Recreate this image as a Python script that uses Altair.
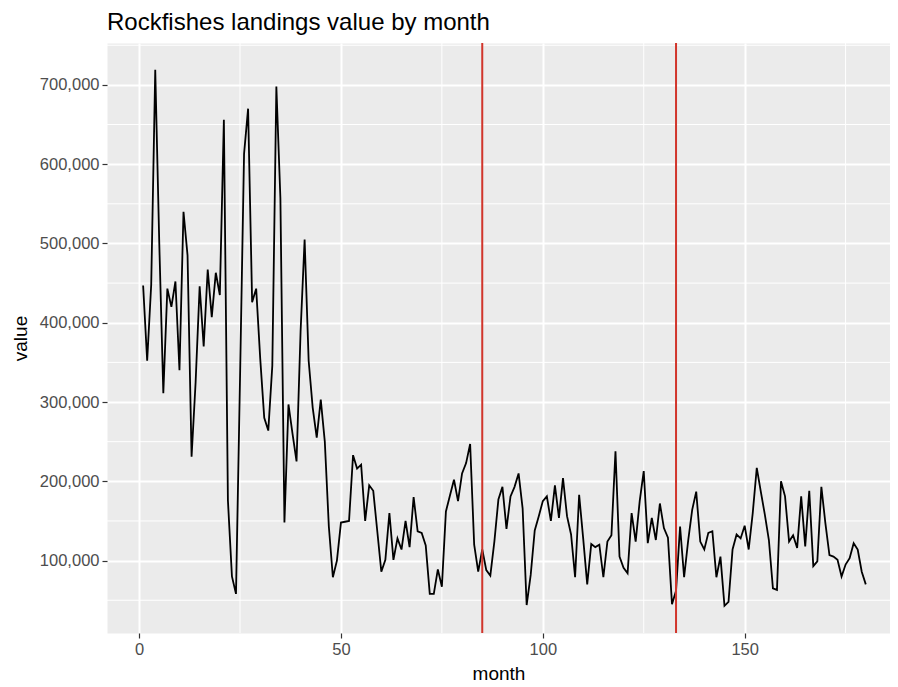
import pandas as pd
import altair as alt

# monthly rockfish landings value
months = list(range(1, 181))
values = [
    447000, 352000, 448000, 719000, 500000, 311000, 443000, 420000, 452000, 340000,
    540000, 485000, 231000, 325000, 446000, 370000, 467000, 407000, 463000, 435000,
    656000, 176000, 80000, 58000, 330000, 613000, 670000, 426000, 443000, 355000,
    280000, 264000, 346000, 698000, 557000, 148000, 297000, 260000, 225000, 389000,
    505000, 352000, 293000, 255000, 303000, 250000, 143000, 79000, 100000, 148000,
    149000, 150000, 233000, 216000, 221000, 150000, 195000, 188000, 137000, 86000,
    101000, 160000, 101000, 128000, 114000, 150000, 117000, 180000, 137000, 135000,
    119000, 58000, 58000, 89000, 67000, 162000, 182000, 202000, 175000, 210000,
    223000, 247000, 120000, 86000, 114000, 88000, 81000, 124000, 177000, 193000,
    140000, 181000, 193000, 210000, 166000, 44000, 82000, 138000, 156000, 175000,
    181000, 150000, 195000, 154000, 204000, 156000, 133000, 79000, 183000, 128000,
    70000, 121000, 117000, 120000, 79000, 124000, 132000, 238000, 105000, 91000,
    84000, 160000, 124000, 175000, 213000, 122000, 154000, 126000, 172000, 141000,
    129000, 45000, 62000, 143000, 79000, 125000, 164000, 187000, 124000, 114000,
    135000, 137000, 79000, 105000, 43000, 48000, 114000, 133000, 128000, 144000,
    114000, 160000, 217000, 187000, 158000, 126000, 65000, 63000, 200000, 181000,
    124000, 132000, 116000, 181000, 118000, 188000, 93000, 99000, 193000, 147000,
    107000, 105000, 101000, 80000, 95000, 103000, 122000, 114000, 86000, 70000,
]
break_months = [85, 133]

x_ticks = [0, 50, 100, 150]
x_minor = [25, 75, 125, 175]
y_ticks = [100000, 200000, 300000, 400000, 500000, 600000, 700000]
y_minor = [50000, 150000, 250000, 350000, 450000, 550000, 650000, 750000]

df = pd.DataFrame({'month': months, 'value': values})

x_scale = alt.Scale(domain=[-7.95, 186], nice=False, zero=False)
y_scale = alt.Scale(domain=[8700, 752800], nice=False, zero=False)
x_axis = alt.Axis(values=x_ticks, titlePadding=7)
y_axis = alt.Axis(values=y_ticks, format=',.0f', titlePadding=9)

line = alt.Chart(df).mark_line(color='black', strokeWidth=1.8).encode(
    x=alt.X('month:Q', scale=x_scale, title='month', axis=x_axis),
    y=alt.Y('value:Q', scale=y_scale, title='value', axis=y_axis),
)

minor_x = alt.Chart(pd.DataFrame({'month': x_minor})).mark_rule(
    color='white', strokeWidth=1
).encode(x=alt.X('month:Q', scale=x_scale, title='month', axis=x_axis))

minor_y = alt.Chart(pd.DataFrame({'value': y_minor})).mark_rule(
    color='white', strokeWidth=1
).encode(y=alt.Y('value:Q', scale=y_scale, title='value', axis=y_axis))

vlines = alt.Chart(pd.DataFrame({'month': break_months})).mark_rule(
    color='#D1352B', strokeWidth=2
).encode(x=alt.X('month:Q', scale=x_scale, title='month', axis=x_axis))

chart = alt.layer(minor_x, minor_y, line, vlines).properties(
    width=783,
    height=590,
    autosize=alt.AutoSizeParams(type='none'),
    padding={'left': 99, 'top': 35, 'right': 0, 'bottom': 52},
    title=alt.TitleParams(
        'Rockfishes landings value by month',
        anchor='start', frame='group', font='Liberation Sans',
        fontSize=24, fontWeight='normal', color='black', offset=7,
    ),
).configure_view(
    fill='#EBEBEB', stroke='transparent'
).configure_axis(
    domain=False,
    grid=True,
    gridColor='white',
    gridWidth=2,
    tickColor='#333333',
    tickSize=5,
    tickWidth=1.2,
    labelPadding=3,
    labelColor='#4D4D4D',
    labelFont='Liberation Sans',
    labelFontSize=16.5,
    titleFont='Liberation Sans',
    titleFontSize=19,
    titleFontWeight='normal',
    titleColor='black',
)

chart.save("out.html", embed_options={"renderer": "svg", "actions": False})
